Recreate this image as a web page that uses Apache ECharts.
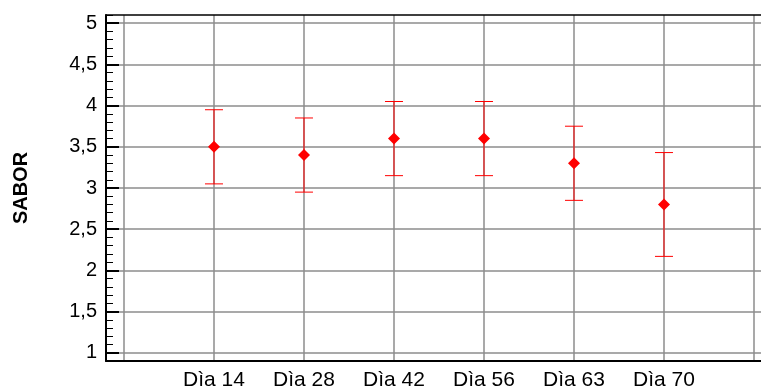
<!DOCTYPE html>
<html>
<head>
<meta charset="utf-8">
<script src="https://cdn.jsdelivr.net/npm/echarts@6/dist/echarts.min.js"></script>
<style>
  html, body { margin: 0; padding: 0; background: #fff; }
  #chart { width: 761px; height: 392px; }
</style>
</head>
<body>
<div id="chart"></div>
<script>
// ---- data ----
const categories = ['Dìa 14', 'Dìa 28', 'Dìa 42', 'Dìa 56', 'Dìa 63', 'Dìa 70'];
const means = [3.5, 3.4, 3.6, 3.6, 3.3, 2.8];
const upper = [3.95, 3.85, 4.05, 4.05, 3.75, 3.43];
const lower = [3.05, 2.95, 3.15, 3.15, 2.85, 2.17];
const yTickMin = 1, yTickMax = 5, yTickStep = 0.5;
const yMinorStep = 0.1;
const yAxisName = 'SABOR';

const FONT = 'Liberation Sans, Arial, sans-serif';
const GRID_COLOR = '#8c8c8c';

const chart = echarts.init(document.getElementById('chart'), null, { renderer: 'canvas' });

const xPos = categories.map((c, i) => i + 1);
const pointData = means.map((m, i) => [xPos[i], m]);
const barData = means.map((m, i) => [xPos[i], lower[i], upper[i]]);

const option = {
  animation: false,
  backgroundColor: '#fff',
  grid: [
    // main plot area (data + frame + minor ticks)
    { left: 106, right: 0, top: 15, bottom: 31 },
    // horizontal gridlines / y labels / major ticks (1..5)
    { left: 106, right: 0, top: 23.24, bottom: 39.24 },
    // vertical gridlines / x labels (0..7)
    { left: 124, right: 7, top: 15, bottom: 31 }
  ],
  xAxis: [
    {
      gridIndex: 0, type: 'value', min: -0.2, max: 7.0778, position: 'bottom',
      axisLine: { show: true, onZero: false, lineStyle: { color: '#000', width: 2 } },
      axisTick: { show: false }, axisLabel: { show: false }, splitLine: { show: false }
    },
    {
      gridIndex: 0, type: 'value', min: -0.2, max: 7.0778, position: 'top',
      axisLine: { show: true, onZero: false, lineStyle: { color: '#000', width: 1.5 } },
      axisTick: { show: false }, axisLabel: { show: false }, splitLine: { show: false }
    },
    {
      gridIndex: 1, type: 'value', min: 0, max: 1, show: false
    },
    {
      gridIndex: 2, type: 'value', min: 0, max: categories.length + 1, interval: 1,
      position: 'bottom',
      axisLine: { show: false }, axisTick: { show: false },
      axisLabel: {
        show: true, margin: 9, color: '#000', fontFamily: FONT, fontSize: 21,
        formatter: v => (v >= 1 && v <= categories.length) ? categories[v - 1] : ''
      },
      splitLine: { show: true, lineStyle: { color: GRID_COLOR, width: 1.5 } }
    }
  ],
  yAxis: [
    {
      gridIndex: 0, type: 'value', min: 0.9, max: 5.1, interval: yMinorStep,
      position: 'left',
      name: yAxisName, nameLocation: 'middle', nameGap: 75,
      nameTextStyle: { color: '#000', fontFamily: FONT, fontSize: 20, fontWeight: 'bold' },
      axisLine: { show: true, onZero: false, lineStyle: { color: '#000', width: 2 } },
      axisTick: { show: true, inside: true, length: 7, lineStyle: { color: '#000', width: 1 } },
      axisLabel: { show: false }, splitLine: { show: false }
    },
    {
      gridIndex: 1, type: 'value', min: yTickMin, max: yTickMax, interval: yTickStep,
      position: 'left',
      axisLine: { show: false },
      axisTick: { show: true, inside: true, length: 13, lineStyle: { color: '#000', width: 2 } },
      axisLabel: {
        show: true, margin: 9, color: '#000', fontFamily: FONT, fontSize: 20,
        formatter: v => String(v).replace('.', ',')
      },
      splitLine: { show: true, lineStyle: { color: GRID_COLOR, width: 1.5 } }
    },
    {
      gridIndex: 2, type: 'value', min: 0, max: 1, show: false
    }
  ],
  series: [
    {
      type: 'custom',
      xAxisIndex: 0, yAxisIndex: 0,
      z: 5,
      data: barData,
      renderItem: function (params, api) {
        const x = api.value(0);
        const lo = api.coord([x, api.value(1)]);
        const hi = api.coord([x, api.value(2)]);
        const hw = 9;
        const style = { stroke: '#ff0000', lineWidth: 1 };
        return {
          type: 'group',
          children: [
            { type: 'line', shape: { x1: hi[0], y1: hi[1], x2: lo[0], y2: lo[1] }, style: style },
            { type: 'line', shape: { x1: hi[0] - hw, y1: hi[1], x2: hi[0] + hw, y2: hi[1] }, style: style },
            { type: 'line', shape: { x1: lo[0] - hw, y1: lo[1], x2: lo[0] + hw, y2: lo[1] }, style: style }
          ]
        };
      }
    },
    {
      type: 'scatter',
      xAxisIndex: 0, yAxisIndex: 0,
      z: 6,
      symbol: 'diamond',
      symbolSize: 12,
      itemStyle: { color: '#ff0000', opacity: 1 },
      data: pointData
    }
  ]
};

chart.setOption(option);
</script>
</body>
</html>
